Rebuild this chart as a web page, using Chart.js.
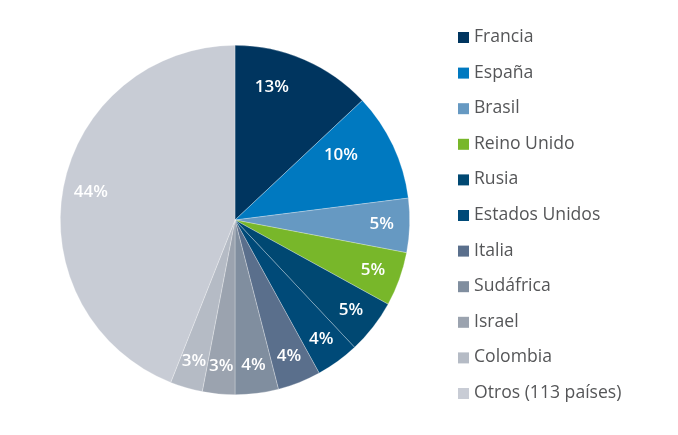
<!DOCTYPE html>
<html>
<head>
<meta charset="utf-8">
<script src="https://cdn.jsdelivr.net/npm/chart.js@4"></script>
<style>
  body { margin: 0; background: #fff; }
  #wrap { width: 678px; height: 435px; }
</style>
</head>
<body>
<div id="wrap"><canvas id="chart1" width="678" height="435"></canvas></div>
<script>
// datos (% por pais)
const countries = ["Francia", "España", "Brasil", "Reino Unido", "Rusia", "Estados Unidos",
                   "Italia", "Sudáfrica", "Israel", "Colombia", "Otros (113 países)"]
const shares = [13, 10, 5, 5, 5, 4, 4, 4, 3, 3, 44]
const colors = ["#00355f", "#0079c0", "#6699c2", "#78b72a", "#004872", "#004a78",
                "#5a6f8c", "#808e9f", "#9ba3af", "#b5bbc5", "#c8ccd5"]

const ctx = document.getElementById("chart1").getContext("2d")

// percentage text on each slice
const sliceLabels = {
    id: "sliceLabels",
    afterDatasetsDraw(chart) {
        const c = chart.ctx
        const meta = chart.getDatasetMeta(0)
        c.save()
        c.fillStyle = "#ffffff"
        c.font = "600 17px 'Open Sans'"
        c.textAlign = "center"
        c.textBaseline = "middle"
        meta.data.forEach((arc, i) => {
            const p = arc.getProps(["x", "y", "startAngle", "endAngle", "outerRadius"], true)
            const v = chart.data.datasets[0].data[i]
            let a = (p.startAngle + p.endAngle) / 2
            let r = p.outerRadius * 0.84
            if (v >= 10 && v < 40) {
                // big slices at the top: text sits a bit further in
                a = p.startAngle + (p.endAngle - p.startAngle) * 0.33
                r = p.outerRadius * (v > 11 ? 0.79 : 0.71)
            }
            c.fillText(v + "%", p.x + Math.cos(a) * r, p.y + Math.sin(a) * r)
        })
        c.restore()
    }
}

// legend on the right, drawn by hand to keep the spacing of the original
const sideLegend = {
    id: "sideLegend",
    afterDraw(chart) {
        const c = chart.ctx
        const ds = chart.data.datasets[0]
        c.save()
        c.font = "17.6px 'Open Sans'"
        c.textBaseline = "middle"
        chart.data.labels.forEach((lab, i) => {
            const y = 37 + i * 35.6
            c.fillStyle = ds.backgroundColor[i]
            c.fillRect(458, y - 5, 11, 11)
            c.fillStyle = "#555658"
            c.fillText(lab, 474, y)
        })
        c.restore()
    }
}

const pieChart = new Chart(ctx, {
    type: "pie",
    data: {
        labels: countries,
        datasets: [{
            data: shares,
            backgroundColor: colors,
            borderColor: "rgba(255,255,255,0.45)",
            borderWidth: 0.6
        }]
    },
    options: {
        responsive: false,
        animation: false,
        layout: { padding: { left: 0, right: 208, top: 45, bottom: 40 } },
        plugins: {
            legend: { display: false },
            tooltip: { enabled: false }
        }
    },
    plugins: [sliceLabels, sideLegend]
})
</script>
</body>
</html>
